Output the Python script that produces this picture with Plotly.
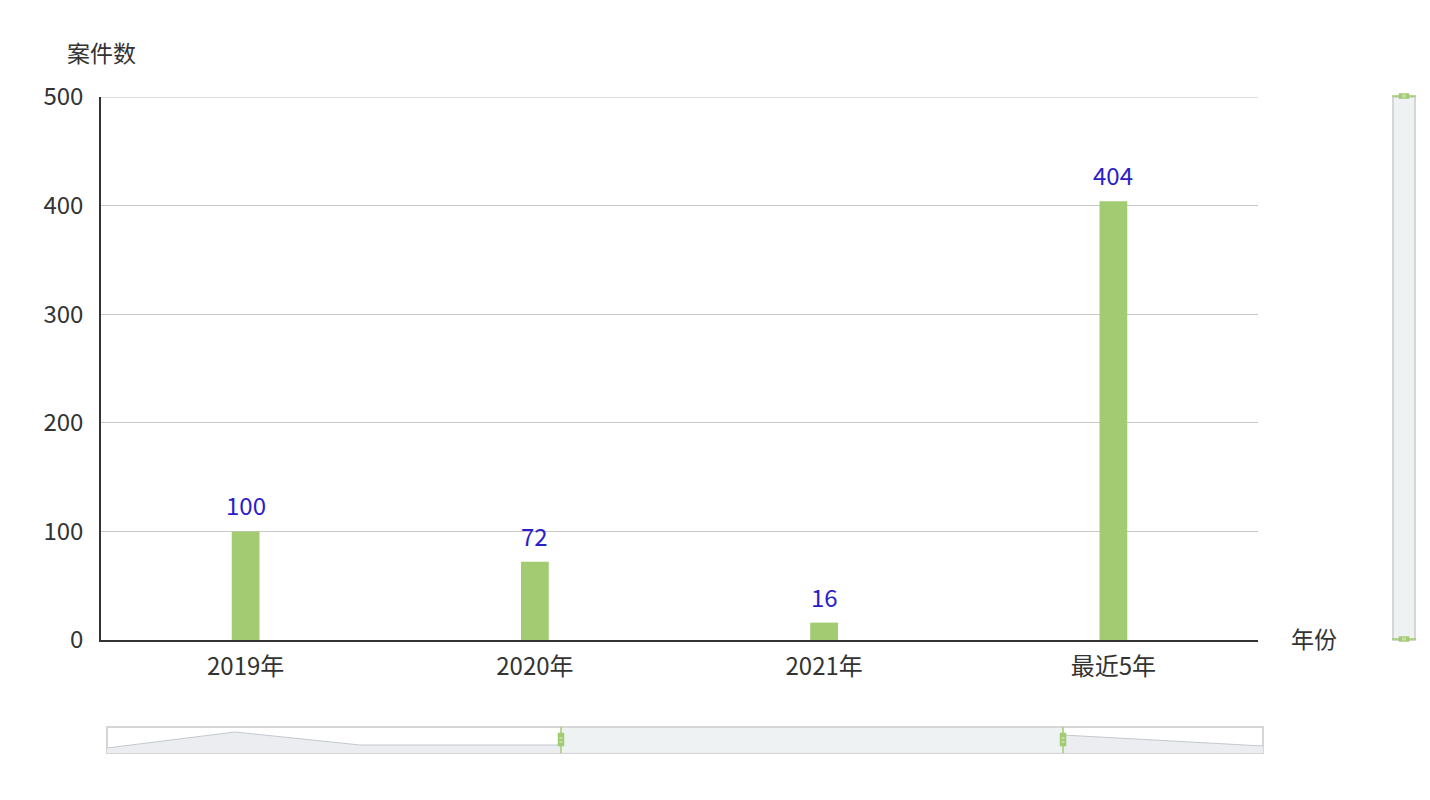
import plotly.graph_objects as go

categories = ["2019年", "2020年", "2021年", "最近5年"]
case_counts = [100, 72, 16, 404]
y_ticks = [0, 100, 200, 300, 400, 500]

# slider shadow profile (decorative)
shadow_x = [0, 128, 253, 453, 700, 956, 1156]
shadow_y = [5, 21, 8, 8, 12, 18, 7]

W, H = 1414, 784          # page body has an 8px margin
O = 8
ML, MR, MT, MB = 93, 7, 89, 32
PW, PH = W - ML - MR, H - MT - MB


def px(x):
    return (x - O - ML) / PW


def py(y):
    return (O + H - MB - y) / PH


FONT = "Noto Sans CJK SC, Noto Sans, sans-serif"
TXT = "#333333"
GREEN = "#a3cb72"

fig = go.Figure()
fig.add_trace(go.Bar(
    x=categories, y=case_counts, width=0.096,
    marker=dict(color=GREEN, line=dict(width=0)),
    hoverinfo="x+y", showlegend=False,
))
fig.add_trace(go.Scatter(
    x=shadow_x, y=shadow_y, xaxis="x2", yaxis="y2", mode="lines",
    line=dict(color="#c3c8cf", width=1), fill="tozeroy", fillcolor="#ebedf0",
    hoverinfo="skip", showlegend=False,
))

fig.update_layout(
    width=W, height=H, margin=dict(l=ML, r=MR, t=MT, b=MB),
    paper_bgcolor="white", plot_bgcolor="white",
    font=dict(family=FONT, size=24, color=TXT),
    bargap=0.9,
    xaxis=dict(domain=[0, px(1258)], showline=True, linecolor="#333333", linewidth=1.5,
               ticks="", showgrid=False, ticklabelstandoff=4,
               tickfont=dict(size=24, color=TXT, family=FONT), fixedrange=True),
    yaxis=dict(domain=[py(640), 1], range=[0, 500], tickvals=y_ticks,
               showline=True, linecolor="#333333", linewidth=1.5,
               showgrid=True, gridcolor="#c8c8c8", gridwidth=1, zeroline=False,
               ticks="", ticklabelstandoff=11,
               tickfont=dict(size=24, color=TXT, family=FONT), fixedrange=True),
    xaxis2=dict(domain=[px(107), px(1263)], range=[0, 1156], visible=False, anchor="y2", fixedrange=True),
    yaxis2=dict(domain=[py(753), py(727)], range=[0, 26], visible=False, anchor="x2", fixedrange=True),
)

for c, v in zip(categories, case_counts):
    fig.add_annotation(x=c, y=v, xref="x", yref="y", text=str(v), showarrow=False,
                       xanchor="center", yanchor="bottom", yshift=7,
                       font=dict(size=24, color="#2b20c8", family=FONT))

fig.add_annotation(text="案件数", xref="paper", yref="paper", x=px(101), y=py(52),
                   xanchor="center", yanchor="middle", showarrow=False,
                   font=dict(size=23, color=TXT, family=FONT))
fig.add_annotation(text="年份", xref="paper", yref="paper", x=px(1289), y=py(638),
                   xanchor="left", yanchor="middle", showarrow=False,
                   font=dict(size=23, color=TXT, family=FONT))

shapes = []
# top gridline (plotly drops the one on the range edge)
shapes.append(dict(type="line", xref="paper", yref="y", x0=0, x1=px(1258), y0=y_ticks[-1], y1=y_ticks[-1],
                   line=dict(color="#c0c0c0", width=1.2), layer="above"))
# bottom slider frame
shapes.append(dict(type="rect", xref="paper", yref="paper", x0=px(107), x1=px(1263),
                   y0=py(753), y1=py(727), line=dict(color="#d6d6d6", width=2), layer="below"))
# selected window
shapes.append(dict(type="rect", xref="paper", yref="paper", x0=px(561), x1=px(1063),
                   y0=py(752), y1=py(728), fillcolor="#eef2f3", line=dict(width=0), layer="above"))
for hx in (561, 1063):
    shapes.append(dict(type="line", xref="paper", yref="paper", x0=px(hx), x1=px(hx),
                       y0=py(753), y1=py(727), line=dict(color=GREEN, width=1.5), layer="above"))
    shapes.append(dict(type="rect", xref="paper", yref="paper", x0=px(hx - 3), x1=px(hx + 3),
                       y0=py(746), y1=py(733), fillcolor=GREEN, line=dict(color=GREEN, width=0.5), layer="above"))
    for yy in (738, 742):
        shapes.append(dict(type="line", xref="paper", yref="paper", x0=px(hx - 1.5), x1=px(hx + 1.5),
                           y0=py(yy), y1=py(yy), line=dict(color="#e6f0da", width=1), layer="above"))
# right slider
shapes.append(dict(type="rect", xref="paper", yref="paper", x0=px(1393), x1=px(1415),
                   y0=py(640), y1=py(97), fillcolor="#eef2f3", line=dict(color="#d6d6d6", width=2), layer="below"))
for hy in (96, 639):
    shapes.append(dict(type="line", xref="paper", yref="paper", x0=px(1392), x1=px(1416),
                       y0=py(hy), y1=py(hy), line=dict(color=GREEN, width=1.5), layer="above"))
    shapes.append(dict(type="rect", xref="paper", yref="paper", x0=px(1399), x1=px(1409),
                       y0=py(hy + 2.5), y1=py(hy - 2.5), fillcolor=GREEN, line=dict(color=GREEN, width=0.5), layer="above"))
    for xx in (1403, 1405):
        shapes.append(dict(type="line", xref="paper", yref="paper", x0=px(xx), x1=px(xx),
                           y0=py(hy + 1.5), y1=py(hy - 1.5), line=dict(color="#e6f0da", width=1), layer="above"))
fig.update_layout(shapes=shapes)

fig.write_html("out.html", config={"displayModeBar": False})
